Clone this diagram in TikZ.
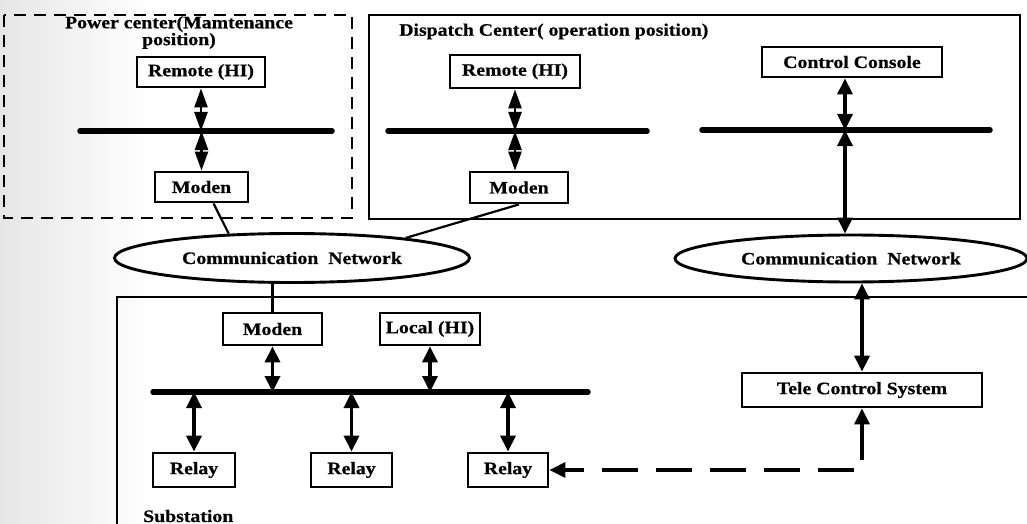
\documentclass[tikz,border=0pt]{standalone}
\usepackage{fontspec}
\setmainfont{Liberation Serif}[FakeStretch=1.13, BoldFeatures={FakeBold=0.6}]
\usetikzlibrary{arrows.meta,shapes.geometric,calc}

\begin{document}
\begin{tikzpicture}[x=1pt,y=-1pt,
  lbl/.style={font=\fontsize{17.5}{14}\selectfont\bfseries, inner sep=0pt},
  unit/.style={lbl, draw, line width=2.8pt},
  net/.style={lbl, ellipse, draw, line width=2.9pt, inner sep=0pt},
  bus/.style={line width=5.5pt, line cap=round},
  link/.style={line width=2.2pt},
  pair/.style={line width=2.4pt, {Triangle[length=19pt,width=13pt]}-{Triangle[length=19pt,width=13pt]}},
  duplex/.style={line width=3.4pt, {Triangle[length=16pt,width=15pt]}-{Triangle[length=16pt,width=15pt]}},
]
\useasboundingbox (0,0) rectangle (1027,524);
\clip (0,0) rectangle (1027,524);
\fill[left color=black!10, right color=white] (0,0) rectangle (150,524);

% ---- enclosures ----
\draw[line width=1.7pt, dash pattern=on 12pt off 8pt] (4,15) rectangle (352,218);
\draw[line width=1.6pt] (369,15) rectangle (1020,219);
\draw[line width=1.3pt] (1040,297) -- (117,297) -- (117,540);

\node[lbl, align=center] (pTitle) at (179,32.5) {Power center(Mamtenance\\position)};
\node[lbl, anchor=west] (dTitle) at (399,31.5) {Dispatch Center( operation position)};
\node[lbl, anchor=west] (sTitle) at (143,516) {Substation};

% ---- equipment ----
\node[unit, minimum width=128pt, minimum height=30pt] (pRemote) at (201,72) {Remote (HI)};
\node[unit, minimum width=93pt, minimum height=30pt] (pModen) at (201.5,187) {Moden};
\node[unit, minimum width=130pt, minimum height=33pt] (dRemote) at (515,71.5) {Remote (HI)};
\node[unit, minimum width=98pt, minimum height=31pt] (dModen) at (519,187.5) {Moden};
\node[unit, minimum width=180pt, minimum height=30pt] (console) at (852,62) {Control Console};
\node[net, minimum width=355pt, minimum height=49pt] (net1) at (292,258) {Communication\ \ Network};
\node[net, minimum width=352pt, minimum height=47pt] (net2) at (851,258.5) {Communication\ \ Network};
\node[unit, minimum width=99pt, minimum height=32pt] (sModen) at (272.5,329) {Moden};
\node[unit, minimum width=100pt, minimum height=32pt] (local) at (430,329) {Local (HI)};
\node[unit, minimum width=82pt, minimum height=34pt] (relayA) at (194,470) {Relay};
\node[unit, minimum width=81pt, minimum height=34pt] (relayB) at (351.5,470) {Relay};
\node[unit, minimum width=80pt, minimum height=34pt] (relayC) at (508,470) {Relay};
\node[unit, minimum width=240pt, minimum height=34pt] (tele) at (862,390) {Tele Control System};

% ---- buses ----
\coordinate (pBusW) at (80,131);   \coordinate (pBusE) at (332,131);
\coordinate (dBusW) at (388,131);  \coordinate (dBusE) at (647,131);
\coordinate (cBusW) at (702,130);  \coordinate (cBusE) at (990,130);
\coordinate (sBusW) at (153,392);  \coordinate (sBusE) at (588,392);
\draw[bus] (pBusW) -- (pBusE);
\draw[bus] (dBusW) -- (dBusE);
\draw[bus] (cBusW) -- (cBusE);
\draw[bus] (sBusW) -- (sBusE);

% ---- power center ----
\draw[pair] (pRemote.south) -- (pRemote.south |- pBusW);
\draw[pair] (pModen.north |- pBusW) -- (pModen.north);

% ---- dispatch center ----
\draw[pair] (dRemote.south) -- (dRemote.south |- dBusW);
\draw[pair] (dRemote.south |- dBusW) -- (dRemote.south |- dModen.north);
\coordinate (cx) at (845,0);
\draw[duplex] (console.south -| cx) -- (cx |- cBusW);
\draw[duplex] (cx |- cBusW) -- (cx |- net2.north);

% ---- network links ----
\draw[link] ($(pModen.south)+(12,0)$) -- (net1.159);
\draw[link] (dModen.south) -- (net1.10);
\draw[link] (net1.south -| sModen.north) -- (sModen.north);
\draw[duplex] (net2.south -| tele.north) -- (tele.north);

% ---- substation ----
\draw[duplex] (sModen.south) -- (sModen.south |- sBusW);
\draw[duplex] (local.south) -- (local.south |- sBusW);
\draw[duplex] (relayA.north |- sBusW) -- (relayA.north);
\draw[duplex] (relayB.north |- sBusW) -- (relayB.north);
\draw[duplex] (relayC.north |- sBusW) -- (relayC.north);
\draw[duplex, dash pattern=on 36pt off 18pt] (tele.south) -- (tele.south |- relayC.east) -- (relayC.east);
\end{tikzpicture}
\end{document}
